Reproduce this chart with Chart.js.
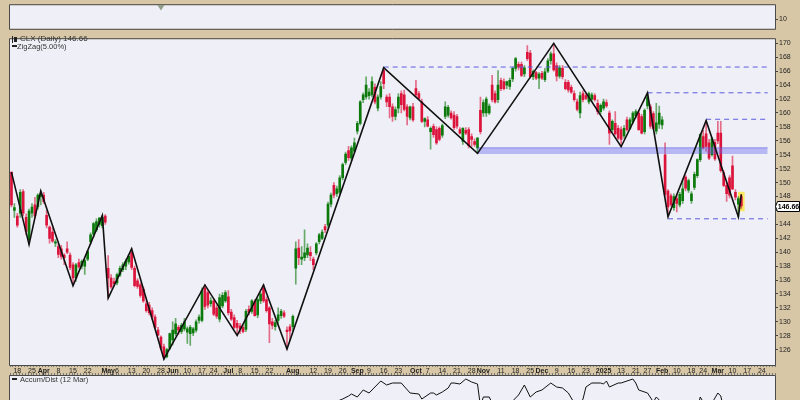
<!DOCTYPE html>
<html><head><meta charset="utf-8">
<script src="https://cdn.jsdelivr.net/npm/chart.js@4.4.1/dist/chart.umd.min.js"></script>
<style>
html,body{margin:0;padding:0;background:#d8c7a6;}
#wrap{position:relative;width:800px;height:400px;overflow:hidden;background:#d8c7a6;}
canvas{position:absolute;left:0;}
.lg{position:absolute;font-family:"Liberation Sans",Arial,sans-serif;color:#333;white-space:nowrap;line-height:1;}
.ic{position:absolute;background:#222;}
</style></head><body>
<div id="wrap">
<canvas id="cTop" width="800" height="34" style="top:0px"></canvas>
<canvas id="cMain" width="800" height="341" style="top:34px"></canvas>
<canvas id="cAD" width="800" height="25" style="top:375px"></canvas>
<div class="ic" style="left:12px;top:36px;width:1px;height:7px"></div>
<div class="ic" style="left:14px;top:37px;width:3px;height:5px"></div>
<div class="lg" id="lgPrice" style="left:20px;top:35px;font-size:8px"></div>
<div class="ic" style="left:12px;top:45px;width:5px;height:1.5px"></div>
<div class="lg" style="left:17px;top:42.5px;font-size:7.5px">ZigZag(5.00%)</div>
<div class="ic" style="left:12px;top:378px;width:5px;height:1.5px"></div>
<div class="lg" style="left:20px;top:375.5px;font-size:7.5px">Accum/Dist (12 Mar)</div>
</div>
<script>
// ---------- DATA ----------
const symbol = 'CLX';
const firstDay = '2024-03-14';
const totalDays = 261; // trading days shown on the axis (incl. future space)
const holidays = ['2024-03-29','2024-05-27','2024-06-19','2024-07-04','2024-09-02','2024-11-28','2024-12-25','2025-01-01','2025-01-09','2025-01-20','2025-02-17'];

const opens = [151.5,146.0,145.2,145.6,148.7,145.0,141.8,145.6,146.8,146.5,
148.0,148.2,145.3,143.6,142.9,141.3,140.8,140.5,139.6,140.5,
139.6,138.2,136.3,138.5,138.0,138.0,139.0,141.5,142.6,143.2,
144.0,143.8,145.2,137.7,136.3,135.8,135.6,136.7,137.5,138.0,
138.6,140.0,137.7,135.9,135.3,134.7,132.6,132.4,131.6,130.7,
128.8,127.8,126.4,125.0,126.2,127.4,128.3,129.2,128.6,129.0,
128.5,128.3,128.4,128.8,130.2,130.2,134.9,134.2,132.6,133.0,
132.0,130.4,132.3,133.0,133.6,131.4,130.6,129.8,129.4,129.2,
128.9,131.8,131.5,132.9,131.0,133.0,134.9,133.2,132.0,130.0,
129.3,130.2,130.9,131.3,128.8,129.3,129.3,137.7,140.6,139.0,
139.2,139.6,140.0,139.0,139.9,141.5,142.0,143.7,143.9,146.9,
149.6,148.4,148.6,150.7,152.9,154.6,153.5,154.5,157.4,158.5,
161.9,162.3,162.5,162.6,163.7,160.7,162.3,166.1,162.3,162.3,
160.9,159.5,160.7,162.8,162.6,160.9,159.3,160.9,163.5,162.8,
161.6,158.8,159.0,157.3,158.1,157.6,157.8,156.8,159.5,159.7,
160.0,159.7,159.5,157.6,155.9,157.5,157.6,156.6,155.9,155.0,
160.4,160.0,160.0,160.0,164.0,162.8,161.9,164.7,164.5,164.0,
163.8,164.9,166.4,167.0,167.0,165.6,168.7,168.6,165.2,165.8,
165.0,165.7,164.8,166.0,167.5,168.5,166.8,165.3,166.4,164.4,
164.4,163.7,162.8,161.6,160.0,162.8,162.5,161.6,162.0,162.5,
161.4,160.2,160.7,161.5,160.0,157.6,158.5,157.8,157.6,156.7,
159.0,157.8,158.8,159.6,160.0,159.5,157.3,161.0,160.9,159.9,
157.4,158.4,158.3,154.0,148.8,148.1,146.4,147.7,146.8,147.4,
150.8,148.9,147.4,149.3,151.0,153.3,156.6,157.0,155.7,154.0,
155.8,157.1,157.1,151.4,149.6,150.7,152.4,148.6,146.9,148.0];
const highs = [151.5,147.0,145.6,149.0,149.0,145.5,146.2,147.0,147.9,148.4,
148.8,148.6,146.0,143.8,143.5,141.8,141.2,141.0,139.8,141.5,
139.9,138.5,138.4,139.0,138.9,139.0,140.3,142.8,144.3,144.8,
145.0,145.3,145.4,139.5,136.8,136.3,137.0,138.0,138.5,139.0,
139.7,140.5,138.0,136.2,135.6,135.0,133.0,132.8,132.0,131.0,
129.2,128.0,126.8,126.2,128.4,130.0,130.5,129.5,129.8,130.5,
129.3,129.5,129.2,130.3,131.0,134.9,135.3,134.5,133.5,133.3,
132.4,134.0,134.2,134.5,134.5,131.8,131.0,130.2,129.8,129.5,
131.8,132.3,133.2,133.2,133.4,134.2,135.3,133.6,132.2,130.5,
130.2,132.0,131.8,131.6,129.3,129.6,131.0,141.5,141.8,140.8,
143.2,141.2,140.8,139.3,141.4,142.7,143.2,144.0,147.2,148.5,
150.0,149.5,151.0,152.8,154.4,155.2,155.3,156.4,158.8,161.8,
162.9,165.2,163.5,165.2,164.2,162.6,164.5,166.5,162.6,162.8,
161.3,160.9,162.8,163.2,163.3,161.2,161.0,161.4,164.7,163.1,
162.0,159.3,159.5,158.0,158.4,158.0,158.0,158.4,161.6,161.1,
160.3,160.2,159.8,157.9,157.9,157.9,157.9,157.0,156.3,156.5,
162.3,161.9,162.3,161.3,165.4,163.2,166.1,165.0,164.9,164.6,
165.0,166.6,168.0,167.3,167.3,166.8,169.7,169.0,166.2,166.0,
165.8,166.0,166.4,167.8,168.8,170.0,167.2,166.8,166.8,164.8,
164.7,164.0,163.2,162.0,163.0,163.2,162.8,163.0,162.9,162.8,
161.9,161.3,162.0,161.9,160.3,159.0,160.2,158.2,158.0,158.2,
159.4,159.3,160.2,160.5,160.3,159.8,160.6,162.9,161.2,160.2,
161.4,161.0,159.5,155.7,149.0,148.4,148.4,148.2,148.6,150.5,
151.0,150.5,148.7,151.5,153.4,157.0,157.5,158.9,156.2,156.5,
156.2,158.8,158.8,151.7,150.0,151.0,153.8,149.0,148.0,148.3];
const lows = [146.5,145.0,143.6,145.0,145.2,142.5,141.1,145.0,144.9,146.2,
146.8,147.0,143.5,141.3,141.4,140.8,139.2,139.0,138.2,139.8,
137.5,135.2,135.8,137.7,137.6,136.8,138.8,141.2,142.2,143.0,
143.6,143.5,144.0,133.4,134.8,135.2,135.3,136.5,137.2,137.5,
138.3,137.5,135.0,134.8,133.5,132.8,131.4,131.0,130.4,129.0,
128.0,126.0,124.65,124.8,126.0,126.7,128.0,128.2,128.3,128.7,
126.9,126.6,128.0,128.5,129.8,130.0,131.8,132.0,132.2,130.9,
130.5,130.0,132.0,132.8,131.0,130.2,129.0,128.05,128.3,128.4,
128.6,131.0,131.2,130.8,130.6,132.6,132.8,131.4,127.0,129.0,
128.8,129.8,130.5,130.6,126.1,127.3,128.8,135.4,138.2,138.2,
138.8,139.2,138.8,137.5,139.6,141.2,141.8,142.8,143.5,146.5,
147.8,148.0,148.3,150.4,152.6,153.2,153.2,154.3,157.0,158.3,
161.5,162.0,162.0,162.3,161.3,160.3,162.0,163.5,160.9,159.3,
158.8,159.0,160.0,160.0,160.3,158.3,159.0,158.8,162.3,162.0,
158.6,158.0,158.0,154.8,156.5,155.5,156.0,156.5,159.2,159.4,
159.1,157.6,157.8,157.0,155.5,156.9,155.0,155.2,155.2,154.2,
157.0,159.5,159.5,159.8,161.6,161.4,161.5,163.2,163.3,163.5,
163.4,164.5,166.0,166.2,165.2,165.2,167.5,165.0,164.8,164.8,
163.5,164.8,164.5,165.8,167.0,166.0,164.6,165.0,164.9,163.3,
163.0,162.8,161.7,160.3,159.3,161.6,161.9,161.3,161.7,161.7,
159.8,159.9,160.4,160.8,155.5,157.3,156.8,156.2,155.15,156.4,
157.4,157.6,158.5,159.3,157.5,157.0,157.0,160.6,157.8,157.6,
157.0,157.8,157.7,148.0,145.1,146.6,146.0,145.8,146.5,147.0,
148.8,148.6,147.0,149.0,150.7,153.0,154.8,154.5,153.3,153.8,
153.2,155.6,151.5,149.4,147.3,147.8,149.0,147.5,145.05,146.3];
const closes = [146.8,146.4,143.9,148.6,145.6,143.0,145.9,146.5,145.2,148.2,
148.4,147.3,143.9,142.0,141.6,141.5,139.7,139.4,139.2,140.0,
137.8,136.3,138.2,137.9,138.7,138.8,140.1,142.5,144.1,144.4,
144.9,145.0,144.3,136.3,135.0,135.5,136.8,137.7,138.2,138.7,
139.4,137.8,135.2,135.1,133.8,133.0,131.6,131.3,130.7,129.2,
128.1,126.2,125.0,126.0,128.3,128.8,129.7,128.8,129.5,130.0,
129.0,129.2,129.0,130.0,130.7,134.5,132.2,132.4,133.0,131.1,
130.8,133.5,133.8,134.2,131.3,130.4,129.2,129.2,129.0,128.6,
131.5,131.4,133.0,130.9,133.2,134.0,133.0,131.6,129.7,129.5,
129.9,131.0,131.5,130.8,128.6,128.7,130.8,140.5,139.2,139.3,
139.9,140.6,139.5,138.2,141.2,142.5,142.9,143.2,146.9,148.2,
148.2,149.1,150.7,152.6,154.1,153.6,155.0,155.7,158.5,161.6,
162.6,164.0,163.0,164.5,161.6,162.3,163.8,164.2,161.6,160.9,
159.5,160.5,162.3,161.2,160.5,159.5,160.9,159.0,162.6,162.1,
158.8,159.2,158.1,157.8,156.9,155.7,156.2,158.2,160.9,160.8,
159.3,157.9,158.1,157.1,157.8,157.1,155.3,156.2,155.5,156.4,
157.3,161.5,162.0,161.0,161.9,161.6,164.0,163.5,163.5,164.5,
164.7,166.4,167.8,166.6,165.4,166.5,167.8,165.2,166.0,165.0,
165.6,165.0,165.9,167.5,168.5,166.2,165.3,166.5,165.2,163.5,
163.3,163.0,161.9,160.5,162.5,161.9,162.1,162.8,162.6,161.9,
160.2,161.1,161.6,161.0,157.1,158.8,157.0,156.4,156.2,157.8,
157.6,159.0,160.0,160.2,157.6,157.1,160.4,162.3,158.1,157.8,
158.6,160.0,159.0,148.3,146.5,146.8,148.0,147.0,148.3,149.1,
149.2,150.3,148.4,151.2,153.3,156.9,155.0,155.2,153.5,156.3,
153.4,156.0,151.7,149.6,148.4,148.2,149.1,147.9,147.7,146.66];

// ZigZag(5%) pivots: bar number and price
const zigBar   = [0,6,10,21,31,33,41,52,66,77,86,94,127,159,185,208,217,224,237,248,249];
const zigPrice = [151.5,141.1,148.8,135.2,145.3,133.4,140.5,124.65,135.3,128.05,135.3,126.1,166.5,154.2,170.0,155.15,162.9,145.1,158.9,145.05,148.3];

// Horizontal annotation lines (price, first bar, last bar)
const levelPrice = [166.6,162.9,159.1,144.8];
const levelFrom  = [127,217,237,224];
const levelTo    = [258,258,258,258];
// Shaded zone
const zoneLow = 154.1, zoneHigh = 155.0, zoneFrom = 159, zoneTo = 258;

// Price axis ticks
const yTicks = [126,128,130,132,134,136,138,140,142,144,146,148,150,152,154,156,158,160,162,164,166,168,170];
const yMin = 123.8, yMax = 170.6;

// Date axis labels
const xTickLabels = [['2024-03-18','18'],['2024-03-25','25'],['2024-04-01','Apr'],['2024-04-08','8'],['2024-04-15','15'],['2024-04-22','22'],['2024-05-01','May'],['2024-05-06','6'],['2024-05-13','13'],['2024-05-20','20'],['2024-05-28','28'],['2024-06-03','Jun'],['2024-06-10','10'],['2024-06-17','17'],['2024-06-24','24'],['2024-07-01','Jul'],['2024-07-08','8'],['2024-07-15','15'],['2024-07-22','22'],['2024-08-01','Aug'],['2024-08-12','12'],['2024-08-19','19'],['2024-08-26','26'],['2024-09-03','Sep'],['2024-09-09','9'],['2024-09-16','16'],['2024-09-23','23'],['2024-10-01','Oct'],['2024-10-07','7'],['2024-10-14','14'],['2024-10-21','21'],['2024-10-28','28'],['2024-11-01','Nov'],['2024-11-11','11'],['2024-11-18','18'],['2024-11-25','25'],['2024-12-02','Dec'],['2024-12-09','9'],['2024-12-16','16'],['2024-12-23','23'],['2025-01-02','2025'],['2025-01-13','13'],['2025-01-21','21'],['2025-01-27','27'],['2025-02-03','Feb'],['2025-02-10','10'],['2025-02-18','18'],['2025-02-24','24'],['2025-03-03','Mar'],['2025-03-10','10'],['2025-03-17','17'],['2025-03-24','24']];

// Accumulation/Distribution (visible part), bar number and value
const adBar = [0,50,100,108,113,115,116,118,120,122,124,126,128,130,133,136,139,140,143,144,145,147,149,150,151,153,155,157,159,160,161,163,165,168,171,172,173,175,177,179,181,184,186,188,190,191,193,195,196,198,201,202,203,204,207,208,210,212,213,214,217,219,220,221,222,223,228,234,235,236,238,240,241,242,243,246,249];
const adVal = [-25,-35,-12,1,7,10,12,9,16,13,19,25,21,23,23,13,12,7,13,13,11,14,18,23,23,22,27,24,22,0,9,9,-3,-6,5,8,11,21,9,14,16,23,19,18,13,8,-2,7,19,23,23,22,25,19,23,23,25,27,23,16,13,4,9,6,2,-4,-10,-3,9,4,-2,8,13,10,-3,-8,-10];

// Top indicator panel (only a sliver is visible)
const topBar = [50,51,52];
const topVal = [27,22.3,27];
const topTicks = [10];

// ---------- BUILD ----------
function tradingDays(start, count){
  const out=[]; const d=new Date(start+'T00:00:00Z');
  while(out.length<count){
    const wd=d.getUTCDay(); const s=d.toISOString().slice(0,10);
    if(wd!==0 && wd!==6 && !holidays.includes(s)) out.push(s);
    d.setUTCDate(d.getUTCDate()+1);
  }
  return out;
}
const dates = tradingDays(firstDay, totalDays);
const N = dates.length;
const last = closes.length-1;
const lastClose = closes[last];
document.getElementById('lgPrice').textContent = symbol+' (Daily) '+lastClose.toFixed(2);

const tickMap = {}; const boldIdx = new Set();
xTickLabels.forEach(([d,t])=>{const i=dates.indexOf(d); if(i>=0){tickMap[i]=t; if(isNaN(Number(t))||t==='2025') boldIdx.add(i);}});

const TAN='#d8c7a6', BG='#efeff7', BORDER='#4a4a4a';
const FONT='"Liberation Sans", Arial, sans-serif';
const RED='#dc143c', GREEN='#0b7a0b', WR='rgba(220,20,60,0.6)', WG='rgba(11,122,11,0.6)';

const frame = {
  id:'frame',
  beforeDraw(c){const {ctx,chartArea:a,width,height}=c; ctx.save(); ctx.fillStyle=TAN; ctx.fillRect(0,0,width,height); ctx.fillStyle=BG; ctx.fillRect(a.left,a.top,a.right-a.left,a.bottom-a.top); ctx.restore();},
  afterDraw(c,args,opts){const {ctx,chartArea:a}=c; ctx.save(); ctx.strokeStyle=BORDER; ctx.lineWidth=1; ctx.beginPath();
    const L=a.left-0.5,R=a.right+0.5,T=a.top-0.5,B=a.bottom+0.5;
    ctx.moveTo(L,B); ctx.lineTo(L,T); ctx.lineTo(R,T); ctx.lineTo(R,B);
    if(opts.bottom!==false){ctx.lineTo(L,B);} ctx.stroke(); ctx.restore();}
};

const common = {responsive:false, animation:false, events:[], devicePixelRatio:1};

// top panel
new Chart(document.getElementById('cTop'),{
  type:'line',
  data:{datasets:[{data:topBar.map((b,i)=>({x:b,y:topVal[i]})),borderColor:'#8f9f86',borderWidth:3,pointRadius:0}]},
  options:{...common, layout:{padding:{left:10,top:0,right:0,bottom:1}},
    plugins:{legend:{display:false},tooltip:{enabled:false},frame:{}},
    scales:{x:{type:'linear',min:-0.5,max:N-0.5,display:false},
      y:{position:'right',min:0,max:25,afterBuildTicks:s=>{s.ticks=topTicks.map(v=>({value:v}));},afterFit:s=>{s.width=25;},
        grid:{drawOnChartArea:false,tickLength:3,color:'#444'},border:{display:false},
        ticks:{font:{family:FONT,size:7},color:'#222',padding:1}}}},
  plugins:[frame]
});

// main price panel
const blank = ()=>new Array(N).fill(null);
const zigData = blank(); zigBar.forEach((b,i)=>zigData[b]=zigPrice[i]);
const up = closes.map((c,i)=>c>=opens[i]);
const hlData = blank(); hlData[last]=[lows[last]-0.35,highs[last]+0.35];
const zoneData = blank(); zoneData[zoneFrom]=zoneHigh; zoneData[zoneTo]=zoneHigh;
const levelSets = levelPrice.map((p,k)=>{const d=blank(); d[levelFrom[k]]=p; d[levelTo[k]]=p;
  return {type:'line',data:d,borderColor:'#5c5ce0',borderWidth:1,borderDash:[5,4],pointRadius:0,spanGaps:true,order:2};});

const priceTag = {id:'priceTag', afterDraw(c){
  const ctx=c.ctx, y=Math.round(c.scales.y.getPixelForValue(lastClose))+0.5;
  ctx.save(); ctx.fillStyle='#fff'; ctx.strokeStyle='#000'; ctx.lineWidth=1;
  ctx.beginPath(); ctx.moveTo(775.5,y); ctx.lineTo(777.5,y-5); ctx.lineTo(799.5,y-5); ctx.lineTo(799.5,y+5); ctx.lineTo(777.5,y+5); ctx.closePath(); ctx.fill(); ctx.stroke();
  ctx.fillStyle='#000'; ctx.font='bold 7px '+FONT; ctx.textBaseline='middle'; ctx.fillText(lastClose.toFixed(2),777.8,y+0.5);
  const xs=c.scales.x, w=xs.width/N; ctx.fillStyle='#777';
  for(let i=0;i<=N;i++){ctx.fillRect(Math.round(xs.left+i*w),c.height-2,1,2);}
  ctx.restore();}};

new Chart(document.getElementById('cMain'),{
  type:'bar',
  data:{labels:dates, datasets:[
    {type:'line',data:zigData,borderColor:'#111',borderWidth:1.6,pointRadius:0,spanGaps:true,order:0},
    {type:'line',data:zoneData,borderColor:'rgba(90,90,225,0.55)',borderWidth:1,backgroundColor:'rgba(100,100,240,0.40)',fill:{value:zoneLow},pointRadius:0,spanGaps:true,order:1},
    ...levelSets,
    {data:opens.map((o,i)=>[o,closes[i]]),backgroundColor:up.map(u=>u?GREEN:RED),barThickness:2,minBarLength:1,grouped:false,order:3},
    {data:lows.map((l,i)=>[l,highs[i]]),backgroundColor:up.map(u=>u?WG:WR),barThickness:1,grouped:false,order:4},
    {data:hlData,backgroundColor:'rgba(248,232,80,0.9)',barThickness:6,grouped:false,order:5}
  ]},
  options:{...common, layout:{padding:{left:10,top:1,right:0,bottom:0}},
    plugins:{legend:{display:false},tooltip:{enabled:false},frame:{}},
    scales:{
      x:{type:'category',offset:true,afterFit:s=>{s.height=10;},
        grid:{display:true,drawOnChartArea:false,drawTicks:true,tickLength:2,color:'#777',offset:true},
        border:{display:false},
        ticks:{autoSkip:false,maxRotation:0,minRotation:0,padding:0,color:'#222',
          font:ctx=>({family:FONT,size:7,weight:boldIdx.has(ctx.index)?'bold':'normal'}),
          callback:(v,i)=>tickMap[i]||''}},
      y:{position:'right',min:yMin,max:yMax,afterBuildTicks:s=>{s.ticks=yTicks.map(v=>({value:v}));},afterFit:s=>{s.width=25;},
        grid:{drawOnChartArea:false,tickLength:3,color:'#444'},border:{display:false},
        ticks:{font:{family:FONT,size:7},color:'#222',padding:1}}}},
  plugins:[frame,priceTag]
});

// Accum/Dist panel
new Chart(document.getElementById('cAD'),{
  type:'line',
  data:{datasets:[{data:adBar.map((b,i)=>({x:b,y:adVal[i]})),borderColor:'#111',borderWidth:1,pointRadius:0,tension:0}]},
  options:{...common, layout:{padding:{left:10,top:1,right:25,bottom:0}},
    plugins:{legend:{display:false},tooltip:{enabled:false},frame:{bottom:false}},
    scales:{x:{type:'linear',min:-0.5,max:N-0.5,display:false},y:{min:6,max:30,display:false}}},
  plugins:[frame]
});
</script>
</body></html>
